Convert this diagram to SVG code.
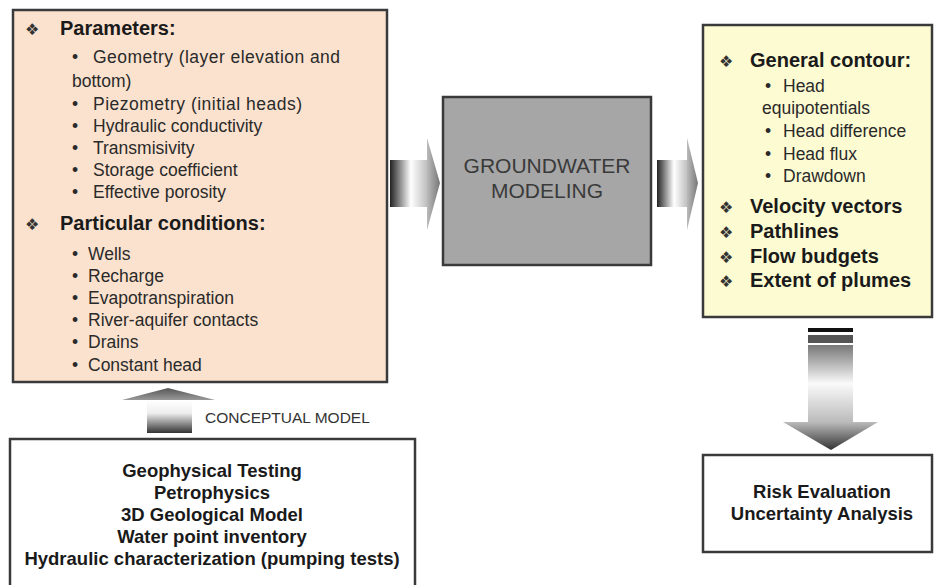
<svg xmlns="http://www.w3.org/2000/svg" width="934" height="585" viewBox="0 0 934 585">
<style>
.box{stroke:#3a3a3a;stroke-width:2.5}
.h{font-family:"Liberation Sans",Arial,sans-serif;font-weight:bold;font-size:20px;fill:#1a1a1a}
.t{font-family:"Liberation Sans",Arial,sans-serif;font-size:17.5px;fill:#2a2a2a}
.b{font-family:"Liberation Sans",Arial,sans-serif;font-weight:bold;font-size:18.5px;fill:#1a1a1a;text-anchor:middle}
.d{font-family:"DejaVu Sans",sans-serif;font-size:16px;fill:#333}
</style>
<defs>
<linearGradient id="hs" x1="0" y1="0" x2="1" y2="0">
<stop offset="0" stop-color="#222"/><stop offset="0.55" stop-color="#fff"/><stop offset="1" stop-color="#bbb"/>
</linearGradient>
<linearGradient id="hh" x1="0" y1="0" x2="1" y2="0">
<stop offset="0" stop-color="#bbb"/><stop offset="1" stop-color="#777"/>
</linearGradient>
<linearGradient id="us" x1="0" y1="0" x2="0" y2="1">
<stop offset="0" stop-color="#fff"/><stop offset="0.4" stop-color="#eee"/><stop offset="1" stop-color="#333"/>
</linearGradient>
<linearGradient id="uh" x1="0" y1="0" x2="0" y2="1">
<stop offset="0" stop-color="#555"/><stop offset="1" stop-color="#999"/>
</linearGradient>
<linearGradient id="ds" x1="0" y1="0" x2="0" y2="1">
<stop offset="0" stop-color="#777"/><stop offset="0.5" stop-color="#fafafa"/><stop offset="1" stop-color="#bbb"/>
</linearGradient>
<linearGradient id="dh" x1="0" y1="0" x2="0" y2="1">
<stop offset="0" stop-color="#bbb"/><stop offset="1" stop-color="#333"/>
</linearGradient>
</defs>

<g id="connectors">
<g id="arrow-left">
<rect x="390" y="160" width="38" height="47" fill="url(#hs)"/>
<polygon points="427,138 440,183 427,230" fill="url(#hh)"/>
</g>
<g id="arrow-right">
<rect x="657" y="160" width="31" height="47" fill="url(#hs)"/>
<polygon points="687,138 698,183 687,230" fill="url(#hh)"/>
</g>
<g id="arrow-up">
<polygon points="168,388 215,400 122,400" fill="url(#uh)"/>
<rect x="147" y="400" width="45" height="33" fill="url(#us)"/>
<text x="205" y="423" font-family="Liberation Sans,Arial,sans-serif" font-size="15.5" fill="#333">CONCEPTUAL MODEL</text>
</g>
<g id="arrow-down">
<rect x="808" y="328" width="45" height="4" fill="#111"/>
<rect x="808" y="335" width="45" height="8" fill="#555"/>
<rect x="808" y="345" width="45" height="77" fill="url(#ds)"/>
<polygon points="783,422 878,422 831,450" fill="url(#dh)"/>
</g>
</g>

<g id="inputs">
<rect class="box" x="13" y="10" width="374" height="372" fill="#fbe2ce"/>
<text class="d" x="25" y="35">❖</text>
<text class="h" x="60" y="35">Parameters:</text>
<text class="t" x="72" y="63">•</text>
<text class="t" x="93" y="63" textLength="247" lengthAdjust="spacing">Geometry (layer elevation and</text>
<text class="t" x="72" y="87">bottom)</text>
<text class="t" x="72" y="110">•</text>
<text class="t" x="93" y="110" textLength="209" lengthAdjust="spacing">Piezometry (initial heads)</text>
<text class="t" x="72" y="132">•</text>
<text class="t" x="93" y="132">Hydraulic conductivity</text>
<text class="t" x="72" y="154">•</text>
<text class="t" x="93" y="154">Transmisivity</text>
<text class="t" x="72" y="176">•</text>
<text class="t" x="93" y="176">Storage coefficient</text>
<text class="t" x="72" y="198">•</text>
<text class="t" x="93" y="198">Effective porosity</text>
<text class="d" x="25" y="230">❖</text>
<text class="h" x="60" y="230">Particular conditions:</text>
<text class="t" x="72" y="260">•</text><text class="t" x="88" y="260">Wells</text>
<text class="t" x="72" y="282">•</text><text class="t" x="88" y="282">Recharge</text>
<text class="t" x="72" y="304">•</text><text class="t" x="88" y="304">Evapotranspiration</text>
<text class="t" x="72" y="326">•</text><text class="t" x="88" y="326">River-aquifer contacts</text>
<text class="t" x="72" y="348">•</text><text class="t" x="88" y="348">Drains</text>
<text class="t" x="72" y="371">•</text><text class="t" x="88" y="371">Constant head</text>
</g>

<g id="modeling">
<rect class="box" x="443" y="97" width="208" height="168" fill="#a6a6a6"/>
<text x="547" y="173" font-family="Liberation Sans,Arial,sans-serif" font-size="21" fill="#3a3a3a" text-anchor="middle">GROUNDWATER</text>
<text x="547" y="198" font-family="Liberation Sans,Arial,sans-serif" font-size="21" fill="#3a3a3a" text-anchor="middle">MODELING</text>
</g>

<g id="outputs">
<rect class="box" x="703" y="25" width="229" height="292" fill="#fdfbd2"/>
<text class="d" x="719" y="67">❖</text>
<text class="h" x="750" y="67">General contour:</text>
<text class="t" x="765" y="92">•</text><text class="t" x="783" y="92">Head</text>
<text class="t" x="762" y="114">equipotentials</text>
<text class="t" x="765" y="137">•</text><text class="t" x="783" y="137">Head difference</text>
<text class="t" x="765" y="160">•</text><text class="t" x="783" y="160">Head flux</text>
<text class="t" x="765" y="182">•</text><text class="t" x="783" y="182">Drawdown</text>
<text class="d" x="719" y="213">❖</text>
<text class="h" x="750" y="213">Velocity vectors</text>
<text class="d" x="719" y="238">❖</text>
<text class="h" x="750" y="238">Pathlines</text>
<text class="d" x="719" y="263">❖</text>
<text class="h" x="750" y="263">Flow budgets</text>
<text class="d" x="719" y="287">❖</text>
<text class="h" x="750" y="287">Extent of plumes</text>
</g>

<g id="data">
<rect class="box" x="10" y="439" width="405" height="160" fill="#fff"/>
<text class="b" x="212" y="477">Geophysical Testing</text>
<text class="b" x="212" y="499">Petrophysics</text>
<text class="b" x="212" y="521">3D Geological Model</text>
<text class="b" x="212" y="543">Water point inventory</text>
<text class="b" x="212" y="565">Hydraulic characterization (pumping tests)</text>
</g>

<g id="risk">
<rect class="box" x="703" y="455" width="229" height="97" fill="#fff"/>
<text class="b" x="822" y="498">Risk Evaluation</text>
<text class="b" x="822" y="520">Uncertainty Analysis</text>
</g>
</svg>
